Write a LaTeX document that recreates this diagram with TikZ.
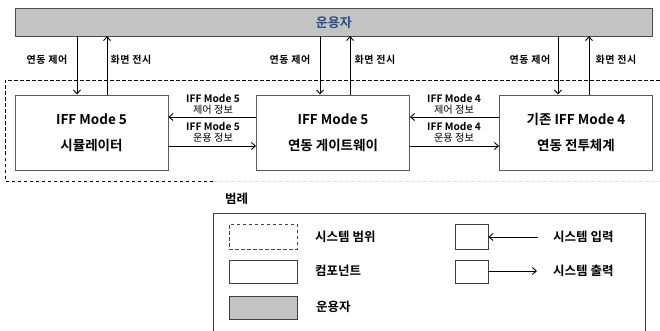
\documentclass[tikz,border=0pt]{standalone}
\usepackage{fontspec}
\setmainfont{Noto Sans CJK KR}
\newfontfamily\krb{Noto Sans CJK KR Bold}
\usetikzlibrary{arrows.meta}
\definecolor{opfill}{RGB}{195,195,195}
\definecolor{optext}{RGB}{45,80,125}
\definecolor{boxline}{RGB}{90,90,90}
\tikzset{
  comp/.style={draw=boxline, line width=0.9pt, fill=white, minimum width=153pt, minimum height=75pt, align=center, font=\krb\fontsize{13.5}{26}\selectfont, inner sep=0pt},
  flow/.style={draw=black, line width=0.9pt, -{Straight Barb[length=4pt,width=7pt]}},
  lbl/.style={font=\krb\fontsize{10}{11}\selectfont\addfontfeature{LetterSpace=6}, inner sep=0pt},
  flbl/.style={font=\krb\fontsize{10.2}{11.2}\selectfont, inner sep=0pt, align=center},
  leg/.style={font=\krb\fontsize{12.5}{14}\selectfont, inner sep=0pt, anchor=west},
  lgbox/.style={draw=black!75, line width=0.8pt, inner sep=0pt}
}
\begin{document}
\begin{tikzpicture}[x=1pt,y=-1pt]
\useasboundingbox (0,0) rectangle (660,331);
% operator bar
\node[draw=black!70, line width=0.8pt, fill=opfill, minimum width=637pt, minimum height=28pt, inner sep=0pt, anchor=north west, text=optext, font=\krb\fontsize{13}{15}\selectfont] (op) at (15,8) {운용자};
% system boundary
\draw[dashed, line width=0.8pt, dash pattern=on 3.5pt off 2.5pt] (213,181) -- (5,181) -- (5,80) -- (660,80);
\draw[dashed, black!12, line width=0.8pt, dash pattern=on 3.5pt off 2.5pt] (213,181) -- (660,181);
% components
\node[comp] (sim) at (91.5,132.5) {IFF Mode 5\\시뮬레이터};
\node[comp] (gw) at (333,132.5) {IFF Mode 5\\연동 게이트웨이};
\node[comp] (cs) at (576,132.5) {기존 IFF Mode 4\\연동 전투체계};
% vertical arrows
\foreach \n/\d/\u in {sim/77/107, gw/320/350, cs/558/589}{
  \coordinate (d\n) at (\d,36);
  \coordinate (u\n) at (\u,36);
  \draw[flow] (d\n) -- (d\n |- \n.north);
  \draw[flow] (u\n |- \n.north) -- (u\n);
}
\node[lbl] (c1) at (47,60) {연동 제어};
\node[lbl] (s1) at (131,60) {화면 전시};
\node[lbl] (c2) at (290,60) {연동 제어};
\node[lbl] (s2) at (375,60) {화면 전시};
\node[lbl] (c3) at (530,60) {연동 제어};
\node[lbl] (s3) at (616,60) {화면 전시};
% horizontal arrows
\draw[flow] (gw.west |- 0,117) -- (sim.east |- 0,117);
\draw[flow] (sim.east |- 0,146) -- (gw.west |- 0,146);
\draw[flow] (cs.west |- 0,117) -- (gw.east |- 0,117);
\draw[flow] (gw.east |- 0,146) -- (cs.west |- 0,146);
\node[flbl] (t1) at (213,104.5) {IFF Mode 5\\{\mdseries\rmfamily 제어 정보}};
\node[flbl] (t2) at (213,132.5) {IFF Mode 5\\{\rmfamily 운용 정보}};
\node[flbl] (t3) at (454,104.5) {IFF Mode 4\\{\rmfamily 제어 정보}};
\node[flbl] (t4) at (454,132.5) {IFF Mode 4\\{\rmfamily 운용 정보}};
% legend
\node[font=\krb\fontsize{12.5}{14}\selectfont, inner sep=0pt, anchor=west] (lt) at (225,199) {범례};
\draw[draw=black!75, line width=0.9pt] (213,340) -- (213,213) -- (645,213) -- (645,340);
\node[lgbox, dashed, dash pattern=on 3.5pt off 2.5pt, minimum width=68pt, minimum height=25pt] (l1) at (263,236.5) {};
\node[lgbox, minimum width=68pt, minimum height=23pt] (l2) at (263,271.5) {};
\node[lgbox, fill=opfill, minimum width=68pt, minimum height=23pt] (l3) at (263,307.5) {};
\node[leg] (lt1) at (315,237) {시스템 범위};
\node[leg] (lt2) at (315,271) {컴포넌트};
\node[leg] (lt3) at (316,307) {운용자};
\node[lgbox, minimum width=33pt, minimum height=25pt] (r1) at (471.5,236.5) {};
\node[lgbox, minimum width=33pt, minimum height=23pt] (r2) at (471.5,271.5) {};
\coordinate (a1) at (538,237);
\coordinate (a2) at (537,271);
\draw[flow] (a1) -- (r1.east |- a1);
\draw[flow] (r2.east |- a2) -- (a2);
\node[leg] (rt1) at (553,237) {시스템 입력};
\node[leg] (rt2) at (553,271) {시스템 출력};
\end{tikzpicture}
\end{document}
